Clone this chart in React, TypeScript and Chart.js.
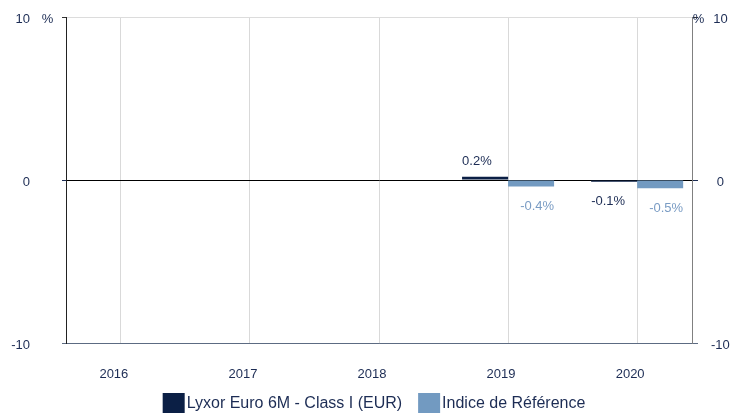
import React, { useEffect, useRef } from "react";
import { Chart, registerables } from "chart.js";

Chart.register(...registerables);

const years = ["2016", "2017", "2018", "2019", "2020"];
const fundValues: (number | null)[] = [null, null, null, 0.2, -0.1];
const refValues: (number | null)[] = [null, null, null, -0.4, -0.5];
const seriesNames = ["Lyxor Euro 6M - Class I (EUR)", "Indice de Référence"];
const yTicks = [-10, 0, 10];

const FUND_COLOR = "#0b1f45";
const REF_COLOR = "#729ac1";
const TEXT_COLOR = "#1c2c54";
const REF_TEXT = "#7a9cc4";
const FONT = "'Liberation Sans', Arial, sans-serif";

const toPoints = (vals: (number | null)[]) =>
  vals
    .map((v, i) => (v === null ? null : { x: i, y: v }))
    .filter((p) => p !== null) as { x: number; y: number }[];

const fmt = (v: number) => `${v.toFixed(1)}%`;

const overlayPlugin = {
  id: "overlay",
  afterDatasetsDraw(chart: any) {
    const ctx = chart.ctx;
    ctx.save();
    ctx.font = `13px ${FONT}`;
    ctx.textBaseline = "middle";
    chart.data.datasets.forEach((ds: any, di: number) => {
      const meta = chart.getDatasetMeta(di);
      meta.data.forEach((el: any, i: number) => {
        const v = ds.data[i].y;
        const half = el.width / 2;
        if (di === 0) {
          ctx.textAlign = "left";
          ctx.fillStyle = TEXT_COLOR;
        } else {
          ctx.textAlign = "right";
          ctx.fillStyle = REF_TEXT;
        }
        const x = di === 0 ? el.x - half : el.x + half;
        const y = v >= 0 ? el.y - 15 : el.y + 20;
        ctx.fillText(fmt(v), x, y);
      });
    });
    ctx.restore();
  },
  afterDraw(chart: any) {
    const ctx = chart.ctx;
    const area = chart.chartArea;
    ctx.save();
    // percent units
    ctx.font = `13px ${FONT}`;
    ctx.fillStyle = TEXT_COLOR;
    ctx.textAlign = "center";
    ctx.textBaseline = "middle";
    ctx.fillText("%", area.left - 18.5, area.top + 2.5);
    ctx.fillText("%", area.right + 6.5, area.top + 2.5);
    // legend
    ctx.font = `16px ${FONT}`;
    const boxW = 22;
    const boxH = 20;
    const gap = 2;
    const itemGap = 16;
    const colors = [FUND_COLOR, REF_COLOR];
    const widths = seriesNames.map((n) => ctx.measureText(n).width);
    const total =
      widths.reduce((a, w) => a + boxW + gap + w, 0) + itemGap * (seriesNames.length - 1);
    let x = (area.left + area.right) / 2 - 5 - total / 2;
    const top = chart.height - boxH - 1;
    ctx.textAlign = "left";
    seriesNames.forEach((n, i) => {
      ctx.fillStyle = colors[i];
      ctx.fillRect(x, top, boxW, boxH);
      ctx.fillStyle = TEXT_COLOR;
      ctx.fillText(n, x + boxW + gap, top + boxH / 2 + 1);
      x += boxW + gap + widths[i] + itemGap;
    });
    ctx.restore();
  },
};

export default function App() {
  const ref = useRef<HTMLCanvasElement | null>(null);
  useEffect(() => {
    if (!ref.current) return;
    const gridColor = (c: any) => {
      const v = c.tick?.value;
      if (v === 0) return "#000000";
      if (v === 10) return "#dcdcdc";
      return "#5c6b82";
    };
    const tickColor = (c: any) => {
      const v = c.tick?.value;
      if (v === 0) return TEXT_COLOR;
      if (v === 10) return "#333333";
      return "#5c6b82";
    };
    const fixVPadding = (scale: any, w: number) => {
      scale.width = w;
      scale.paddingTop = 8;
      scale.paddingBottom = 8;
    };
    const chart = new Chart(ref.current, {
      type: "bar",
      data: {
        datasets: [
          {
            label: seriesNames[0],
            data: toPoints(fundValues),
            backgroundColor: FUND_COLOR,
            borderWidth: 0,
            categoryPercentage: 0.713,
            barPercentage: 1,
          },
          {
            label: seriesNames[1],
            data: toPoints(refValues),
            backgroundColor: REF_COLOR,
            borderWidth: 0,
            categoryPercentage: 0.713,
            barPercentage: 1,
          },
        ],
      },
      options: {
        animation: false,
        responsive: true,
        maintainAspectRatio: false,
        layout: { padding: { top: 17, bottom: 31, left: 0, right: 0 } },
        plugins: {
          legend: { display: false },
          tooltip: { enabled: false },
          title: { display: false },
        },
        scales: {
          x: {
            type: "linear",
            min: -0.425,
            max: 4.425,
            offset: false,
            afterBuildTicks: (scale: any) => {
              scale.ticks = years.map((_, i) => ({ value: i }));
            },
            afterFit: (scale: any) => {
              scale.height = 40;
              scale.paddingLeft = 0;
              scale.paddingRight = 0;
            },
            ticks: {
              callback: (v: any) => years[v as number] ?? "",
              color: TEXT_COLOR,
              font: { family: FONT, size: 13 },
              padding: 24,
              labelOffset: -7,
              maxRotation: 0,
              autoSkip: false,
            },
            grid: {
              color: "#d9d9d9",
              drawTicks: false,
              offset: false,
            },
            border: { color: "#5c6b82", width: 1 },
          },
          y: {
            position: "left",
            min: -10,
            max: 10,
            afterBuildTicks: (scale: any) => {
              scale.ticks = yTicks.map((v) => ({ value: v }));
            },
            afterFit: (scale: any) => fixVPadding(scale, 66),
            ticks: {
              color: TEXT_COLOR,
              font: { family: FONT, size: 13 },
              padding: 32,
              labelOffset: 2.5,
              callback: (v: any) => String(v),
            },
            grid: {
              color: gridColor,
              tickColor: tickColor,
              tickLength: 4,
            },
            border: { color: "#222222", width: 1 },
          },
          y2: {
            position: "right",
            min: -10,
            max: 10,
            afterBuildTicks: (scale: any) => {
              scale.ticks = yTicks.map((v) => ({ value: v }));
            },
            afterFit: (scale: any) => fixVPadding(scale, 44),
            ticks: {
              color: TEXT_COLOR,
              font: { family: FONT, size: 13 },
              padding: 13,
              labelOffset: 2.5,
              crossAlign: "center",
              callback: (v: any) => String(v),
            },
            grid: {
              drawOnChartArea: false,
              tickColor: tickColor,
              tickLength: 6,
            },
            border: { color: "#808080", width: 1 },
          },
        },
      } as any,
      plugins: [overlayPlugin],
    });
    return () => chart.destroy();
  }, []);
  return (
    <div style={{ position: "absolute", left: 0, top: 0, width: 736, height: 414, background: "#fff" }}>
      <canvas ref={ref} />
    </div>
  );
}
